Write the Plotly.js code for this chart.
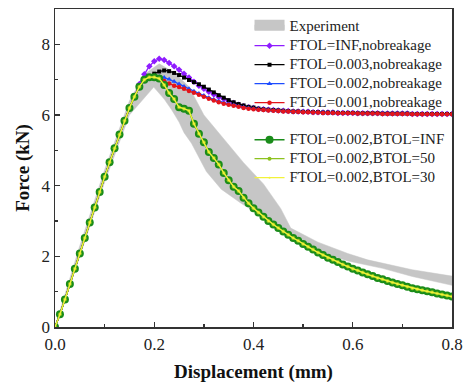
<!DOCTYPE html>
<html><head><meta charset="utf-8">
<script src="https://cdn.plot.ly/plotly-3.0.1.min.js"></script>
<style>html,body{margin:0;padding:0;background:#fff}#c{width:468px;height:383px}</style>
</head><body><div id="c"></div>
<script>
// Displacement grid (mm)
const disp = [0,0.01,0.02,0.03,0.04,0.05,0.06,0.07,0.08,0.09,0.10,0.11,0.12,0.13,0.14,0.15,0.16,0.17,0.18,0.19,0.20,
0.21,0.22,0.23,0.24,0.25,0.26,0.27,0.28,0.29,0.30,0.31,0.32,0.33,0.34,0.35,0.36,0.37,0.38,0.39,0.40,
0.41,0.42,0.43,0.44,0.45,0.46,0.47,0.48,0.49,0.50,0.51,0.52,0.53,0.54,0.55,0.56,0.57,0.58,0.59,0.60,
0.61,0.62,0.63,0.64,0.65,0.66,0.67,0.68,0.69,0.70,0.71,0.72,0.73,0.74,0.75,0.76,0.77,0.78,0.79,0.80];

// Experiment band (upper / lower envelope)
const expUpperX = [0,0.05,0.10,0.15,0.18,0.21,0.24,0.27,0.30,0.33,0.36,0.38,0.42,0.455,0.475,0.53,0.59,0.63,0.72,0.80];
const expUpperY = [0,2.30,4.45,6.40,7.15,7.45,7.20,6.80,6.00,5.50,5.00,4.65,4.05,3.35,2.80,2.40,2.08,1.90,1.62,1.44];
const expLowerX = [0,0.05,0.10,0.15,0.199,0.22,0.235,0.25,0.26,0.275,0.29,0.305,0.335,0.375,0.41,0.435,0.47,0.52,0.56,0.59,0.66,0.72,0.80];
const expLowerY = [0,2.00,4.10,6.00,6.79,6.45,6.15,5.80,5.50,5.20,4.80,4.40,3.90,3.50,3.20,2.95,2.60,2.25,2.00,1.87,1.66,1.43,1.18];

// FTOL=INF, nobreakage
const ftolInf = [0,0.36,0.78,1.22,1.65,2.08,2.52,2.96,3.38,3.82,4.25,4.66,5.06,5.45,5.84,6.20,6.52,6.88,7.15,7.38,7.52,
7.59,7.56,7.47,7.38,7.28,7.17,7.06,6.94,6.83,6.74,6.66,6.58,6.51,6.45,6.39,6.34,6.29,6.25,6.22,6.20,
6.17,6.16,6.15,6.14,6.13,6.12,6.11,6.10,6.10,6.09,6.09,6.08,6.08,6.07,6.07,6.07,6.06,6.06,6.06,6.06,
6.05,6.05,6.05,6.05,6.05,6.04,6.04,6.04,6.04,6.04,6.04,6.03,6.03,6.03,6.03,6.03,6.03,6.03,6.03,6.03];
// FTOL=0.003, nobreakage
const ftol003 = [0,0.36,0.78,1.22,1.65,2.08,2.52,2.96,3.38,3.82,4.25,4.66,5.06,5.45,5.84,6.20,6.52,6.80,7.00,7.10,7.17,
7.23,7.26,7.24,7.19,7.13,7.06,6.99,6.93,6.87,6.80,6.72,6.64,6.56,6.49,6.42,6.36,6.31,6.27,6.23,6.21,
6.18,6.16,6.15,6.14,6.13,6.12,6.11,6.10,6.10,6.09,6.09,6.08,6.08,6.07,6.07,6.07,6.06,6.06,6.06,6.06,
6.05,6.05,6.05,6.05,6.05,6.04,6.04,6.04,6.04,6.04,6.04,6.03,6.03,6.03,6.03,6.03,6.03,6.03,6.03,6.03];
// FTOL=0.002, nobreakage
const ftol002 = [0,0.36,0.78,1.22,1.65,2.08,2.52,2.96,3.38,3.82,4.25,4.66,5.06,5.45,5.84,6.20,6.52,6.80,6.98,7.05,7.08,
7.08,7.06,7.01,6.95,6.88,6.81,6.74,6.67,6.61,6.55,6.49,6.44,6.39,6.35,6.31,6.28,6.25,6.22,6.20,6.18,
6.16,6.15,6.14,6.13,6.12,6.11,6.10,6.10,6.09,6.09,6.08,6.08,6.07,6.07,6.06,6.06,6.06,6.05,6.05,6.05,
6.05,6.04,6.04,6.04,6.04,6.04,6.03,6.03,6.03,6.03,6.03,6.03,6.02,6.02,6.02,6.02,6.02,6.02,6.02,6.02];
// FTOL=0.001, nobreakage
const ftol001 = [0,0.36,0.78,1.22,1.65,2.08,2.52,2.96,3.38,3.82,4.25,4.66,5.06,5.45,5.84,6.20,6.52,6.80,6.98,7.04,7.05,
7.02,6.96,6.89,6.83,6.79,6.74,6.68,6.63,6.57,6.52,6.46,6.41,6.36,6.32,6.29,6.26,6.23,6.20,6.18,6.16,
6.15,6.14,6.13,6.12,6.11,6.10,6.10,6.09,6.09,6.08,6.08,6.07,6.07,6.06,6.06,6.06,6.05,6.05,6.05,6.05,
6.04,6.04,6.04,6.04,6.04,6.03,6.03,6.03,6.03,6.03,6.03,6.02,6.02,6.02,6.02,6.02,6.02,6.02,6.02,6.02];
// FTOL=0.002 with breakage (BTOL=INF / 50 / 30 overlap)
const btolInf = [0,0.36,0.78,1.22,1.65,2.08,2.52,2.96,3.38,3.82,4.25,4.66,5.06,5.45,5.84,6.20,6.52,6.80,7.00,7.07,7.07,
7.03,6.85,6.62,6.45,6.22,6.18,6.12,5.75,5.47,5.23,4.95,4.78,4.60,4.36,4.15,3.97,3.85,3.66,3.50,3.36,
3.24,3.12,3.00,2.90,2.80,2.70,2.61,2.52,2.44,2.35,2.27,2.19,2.11,2.04,1.96,1.90,1.84,1.77,1.71,1.65,
1.60,1.54,1.49,1.44,1.39,1.35,1.30,1.26,1.22,1.18,1.14,1.10,1.07,1.04,1.01,0.98,0.95,0.92,0.89,0.86];
const btol50 = btolInf;
const btol30 = btolInf;

const names = ['Experiment','FTOL=INF,nobreakage','FTOL=0.003,nobreakage','FTOL=0.002,nobreakage','FTOL=0.001,nobreakage',
  'FTOL=0.002,BTOL=INF','FTOL=0.002,BTOL=50','FTOL=0.002,BTOL=30'];

const bandX = expUpperX.concat(expLowerX.slice().reverse());
const bandY = expUpperY.concat(expLowerY.slice().reverse());

const lbl = s => '<span style="font-size:15px">' + s + '</span>';

function line(y, name, color, sym, msize, lw, grp){
  return {x: disp, y: y, name: lbl(name), type:'scatter', mode:'lines+markers', legendgroup: grp,
    line:{color:color, width:lw}, marker:{color:color, symbol:sym, size:msize}};
}

const gray = '#c6c6c6';
const traces = [
  {x: bandX, y: bandY, name: lbl(names[0]), type:'scatter', mode:'lines', fill:'toself', fillcolor:gray,
   line:{color:gray, width:0.5}, legendgroup:'a', showlegend:false},
  {x: [null], y: [null], name: lbl(names[0]), type:'scatter', mode:'lines', fill:'toself', fillcolor:gray,
   line:{color:gray, width:16}, legendgroup:'a', showlegend:true},
  line(ftolInf, names[1], '#8f1cff', 'diamond', 5, 1.3, 'a'),
  line(ftol003, names[2], '#000000', 'square', 4, 1.3, 'a'),
  line(ftol002, names[3], '#1d4cff', 'triangle-up', 5, 1.3, 'a'),
  line(ftol001, names[4], '#e3141b', 'circle', 4.5, 1.3, 'a'),
  line(btolInf, names[5], '#1a8c1a', 'circle', 8, 1.5, 'b'),
  line(btol50, names[6], '#8dc21f', 'circle', 4, 1.3, 'b'),
  line(btol30, names[7], '#f2f23a', 'circle', 2, 1.3, 'b')
];

const axisFont = {family:'Liberation Serif, Times New Roman, serif', size:17, color:'#222'};
const layout = {
  width:468, height:383,
  margin:{l:55, r:16, t:9, b:56},
  paper_bgcolor:'#fff', plot_bgcolor:'#fff',
  showlegend:true,
  font:{family:'Liberation Serif, Times New Roman, serif', color:'#222'},
  xaxis:{range:[0,0.8], dtick:0.2, tick0:0, tickformat:'.1f', ticks:'inside', ticklen:5, tickwidth:1.3,
    tickcolor:'#333', minor:{dtick:0.1, ticks:'inside', ticklen:3, tickcolor:'#333'},
    showline:true, linecolor:'#333', linewidth:1.5, mirror:true, showgrid:false, zeroline:false,
    tickfont:axisFont, ticklabelstandoff:1,
    title:{text:'<b>Displacement (mm)</b>', font:{family:'Liberation Serif, serif', size:19, color:'#111'}, standoff:12}},
  yaxis:{range:[0,9], dtick:2, tick0:0, ticks:'inside', ticklen:5, tickwidth:1.3,
    tickcolor:'#333', minor:{dtick:1, ticks:'inside', ticklen:3, tickcolor:'#333'},
    showline:true, linecolor:'#333', linewidth:1.5, mirror:true, showgrid:false, zeroline:false,
    tickfont:axisFont,
    title:{text:'<b>Force (kN)</b>', font:{family:'Liberation Serif, serif', size:19, color:'#111'}, standoff:7}},
  legend:{x:0.49, y:0.99, xanchor:'left', yanchor:'top', bgcolor:'rgba(0,0,0,0)', borderwidth:0,
    traceorder:'grouped', tracegroupgap:18,
    font:{family:'Liberation Serif, Times New Roman, serif', size:12.3, color:'#222'}}
};
Plotly.newPlot('c', traces, layout, {displayModeBar:false, staticPlot:true});
</script>
</body></html>
